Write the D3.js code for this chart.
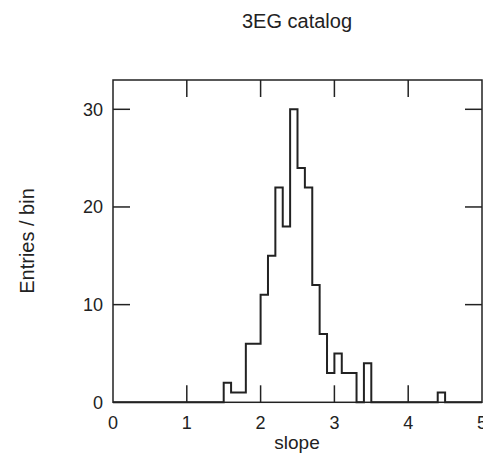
<!DOCTYPE html>
<html>
<head>
<meta charset="utf-8">
<script src="https://cdn.jsdelivr.net/npm/d3@7"></script>
<style>
  html, body { margin: 0; padding: 0; background: #fff; }
  text { font-family: "Liberation Sans", Arial, sans-serif; fill: #222; }
</style>
</head>
<body>
<svg id="chart" width="483" height="456"></svg>
<script>
// ---- data ----
const title = "3EG catalog";
const xLabel = "slope";
const yLabel = "Entries / bin";
const binLow = [1.5, 1.6, 1.7, 1.8, 1.9, 2.0, 2.1, 2.2, 2.3, 2.4, 2.5, 2.6, 2.7, 2.8, 2.9,
                3.0, 3.1, 3.2, 3.3, 3.4, 3.5, 3.6, 3.7, 3.8, 3.9, 4.0, 4.1, 4.2, 4.3, 4.4];
const counts = [2, 1, 1, 6, 6, 11, 15, 22, 18, 30, 24, 22, 12, 7, 3,
                5, 3, 3, 0, 4, 0, 0, 0, 0, 0, 0, 0, 0, 0, 1];
const binWidth = 0.1;
const xTicks = [0, 1, 2, 3, 4, 5];
const yTicks = [0, 10, 20, 30];
const xDomain = [0, 5];
const yDomain = [0, 33];

// ---- layout ----
const svg = d3.select("#chart");
const L = 113, R = 482, T = 80, B = 402.3;
const x = d3.scaleLinear().domain(xDomain).range([L, R]);
const y = d3.scaleLinear().domain(yDomain).range([B, T]);
const tickLen = 17;

// frame
svg.append("rect")
  .attr("x", L).attr("y", T).attr("width", R - L).attr("height", B - T)
  .attr("fill", "none").attr("stroke", "#222").attr("stroke-width", 1.5);

// ticks (inward, all four sides)
const g = svg.append("g").attr("stroke", "#222").attr("stroke-width", 1.5);
xTicks.slice(1, -1).forEach(v => {
  g.append("line").attr("x1", x(v)).attr("x2", x(v)).attr("y1", B).attr("y2", B - tickLen);
  g.append("line").attr("x1", x(v)).attr("x2", x(v)).attr("y1", T).attr("y2", T + tickLen);
});
yTicks.slice(1).forEach(v => {
  g.append("line").attr("x1", L).attr("x2", L + tickLen).attr("y1", y(v)).attr("y2", y(v));
  g.append("line").attr("x1", R).attr("x2", R - tickLen).attr("y1", y(v)).attr("y2", y(v));
});

// tick labels
svg.append("g").selectAll("text").data(xTicks).join("text")
  .attr("x", d => x(d)).attr("y", 429)
  .attr("text-anchor", "middle").attr("font-size", 18)
  .text(d => d);
svg.append("g").selectAll("text").data(yTicks).join("text")
  .attr("x", 103).attr("y", d => y(d)).attr("dy", "0.36em")
  .attr("text-anchor", "end").attr("font-size", 18)
  .text(d => d);

// histogram
const pts = [[xDomain[0], 0]];
binLow.forEach((lo, i) => pts.push([lo, counts[i]]));
pts.push([binLow[binLow.length - 1] + binWidth, 0]);
pts.push([xDomain[1], 0]);
const line = d3.line().x(d => x(d[0])).y(d => y(d[1])).curve(d3.curveStepAfter);
svg.append("path").attr("d", line(pts))
  .attr("fill", "none").attr("stroke", "#222").attr("stroke-width", 2);

// titles
svg.append("text").attr("x", 297).attr("y", 28)
  .attr("text-anchor", "middle").attr("font-size", 20).text(title);
svg.append("text").attr("x", 297).attr("y", 449)
  .attr("text-anchor", "middle").attr("font-size", 19).text(xLabel);
svg.append("text").attr("transform", "translate(34,241) rotate(-90)")
  .attr("text-anchor", "middle").attr("font-size", 20).text(yLabel);
</script>
</body>
</html>
